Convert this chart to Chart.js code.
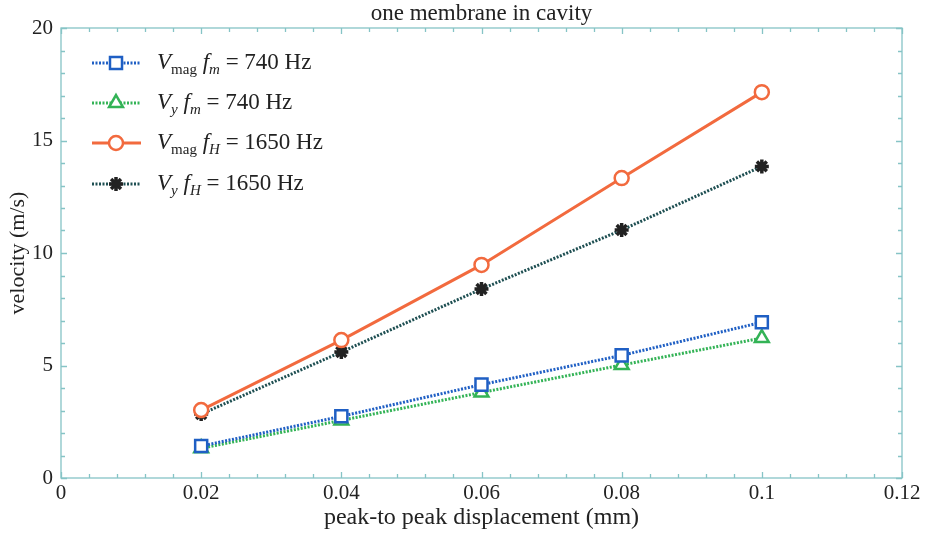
<!DOCTYPE html>
<html>
<head>
<meta charset="utf-8">
<script src="https://cdn.jsdelivr.net/npm/chart.js@4.4.1/dist/chart.umd.min.js"></script>
<style>
  html, body { margin: 0; padding: 0; background: #fff; }
  #wrap { position: relative; width: 927px; height: 534px; }
  #legend { position: absolute; left: 157px; top: 0; font-family: "Liberation Serif", serif; font-size: 23px; color: #222; }
  #legend div { position: absolute; left: 0; white-space: nowrap; line-height: 26px; }
  #legend sub { font-size: 15px; vertical-align: -5px; line-height: 0; }
  #legend i { font-style: italic; }
</style>
</head>
<body>
<div id="wrap">
  <canvas id="chart" width="927" height="534"></canvas>
  <div id="legend"></div>
</div>
<script>
// peak-to-peak displacement (mm)
const displacement = [0.02, 0.04, 0.06, 0.08, 0.1];
// velocities (m/s)
const vmagFm = [1.42, 2.74, 4.15, 5.45, 6.92];
const vyFm = [1.32, 2.56, 3.80, 5.02, 6.22];
const vmagFh = [3.02, 6.13, 9.47, 13.33, 17.15];
const vyFh = [2.84, 5.60, 8.40, 11.02, 13.85];

const seriesLabels = [
  '<i>V</i><sub>mag</sub> <i>f</i><sub><i>m</i></sub> = 740 Hz',
  '<i>V</i><sub><i>y</i></sub> <i>f</i><sub><i>m</i></sub> = 740 Hz',
  '<i>V</i><sub>mag</sub> <i>f</i><sub><i>H</i></sub> = 1650 Hz',
  '<i>V</i><sub><i>y</i></sub> <i>f</i><sub><i>H</i></sub> = 1650 Hz'
];
const xTicks = [0, 0.02, 0.04, 0.06, 0.08, 0.1, 0.12];
const yTicks = [0, 5, 10, 15, 20];

const axisColor = '#86c4c6';
const serif = "'Liberation Serif', serif";

function pts(ys) {
  return displacement.map((x, i) => ({ x: x, y: ys[i] }));
}

const datasets = [
  { data: pts(vmagFm), borderColor: '#1f5fc4', backgroundColor: '#ffffff', borderWidth: 3, borderDash: [2, 1.5],
    pointStyle: 'rect', pointRadius: 8.5, pointBorderWidth: 2.5, pointBorderColor: '#1f5fc4', pointBackgroundColor: '#ffffff' },
  { data: pts(vyFm), borderColor: '#33b356', backgroundColor: '#ffffff', borderWidth: 3, borderDash: [2, 1.5],
    pointStyle: 'triangle', pointRadius: 8, pointBorderWidth: 2.5, pointBorderColor: '#33b356', pointBackgroundColor: '#ffffff' },
  { data: pts(vmagFh), borderColor: '#f26a3e', backgroundColor: '#ffffff', borderWidth: 3,
    pointStyle: 'circle', pointRadius: 7, pointBorderWidth: 2.5, pointBorderColor: '#f26a3e', pointBackgroundColor: '#ffffff' },
  { data: pts(vyFh), borderColor: '#1e4f52', backgroundColor: '#222', borderWidth: 3, borderDash: [2, 1.5],
    pointStyle: 'star', pointRadius: 7, pointBorderWidth: 3.5, pointBorderColor: '#222', pointBackgroundColor: '#222' }
];

// legend rows (canvas samples + html text)
const legendRows = [63, 103, 143, 184];
const legendEl = document.getElementById('legend');
seriesLabels.forEach((html, i) => {
  const d = document.createElement('div');
  d.style.top = (legendRows[i] - 14) + 'px';
  d.innerHTML = html;
  legendEl.appendChild(d);
});

// draws the axes box, inward major/minor ticks and legend samples
const boxPlugin = {
  id: 'boxTicks',
  afterDatasetsDraw(chart) {
    const { ctx, chartArea: a, scales } = chart;
    ctx.save();
    ctx.strokeStyle = axisColor;
    ctx.lineWidth = 1.3;
    ctx.strokeRect(a.left, a.top, a.right - a.left, a.bottom - a.top);
    ctx.beginPath();
    for (let v = 0; v <= 0.12 + 1e-9; v += 0.004) {
      const px = Math.round(scales.x.getPixelForValue(v)) + 0.5;
      const major = Math.abs(v / 0.02 - Math.round(v / 0.02)) < 1e-6;
      const len = major ? 6 : 4;
      ctx.moveTo(px, a.bottom); ctx.lineTo(px, a.bottom - len);
      ctx.moveTo(px, a.top); ctx.lineTo(px, a.top + len);
    }
    for (let v = 0; v <= 20; v += 1) {
      const py = Math.round(scales.y.getPixelForValue(v)) + 0.5;
      const len = v % 5 === 0 ? 6 : 4;
      ctx.moveTo(a.left, py); ctx.lineTo(a.left + len, py);
      ctx.moveTo(a.right, py); ctx.lineTo(a.right - len, py);
    }
    ctx.stroke();

    // legend samples
    chart.data.datasets.forEach((ds, i) => {
      const y = legendRows[i];
      ctx.strokeStyle = ds.borderColor;
      ctx.lineWidth = ds.borderWidth;
      ctx.setLineDash(ds.borderDash || []);
      ctx.beginPath();
      ctx.moveTo(92, y); ctx.lineTo(141, y);
      ctx.stroke();
      ctx.setLineDash([]);
      ctx.fillStyle = ds.pointBackgroundColor;
      ctx.strokeStyle = ds.pointBorderColor;
      ctx.lineWidth = ds.pointBorderWidth;
      Chart.helpers.drawPoint(ctx, { pointStyle: ds.pointStyle, radius: ds.pointRadius, rotation: 0, borderWidth: ds.pointBorderWidth }, 116, y);
    });
    ctx.restore();
  }
};

new Chart(document.getElementById('chart'), {
  type: 'line',
  data: { datasets: datasets },
  plugins: [boxPlugin],
  options: {
    responsive: false,
    devicePixelRatio: 1,
    animation: false,
    layout: { padding: { left: 0, right: 25, top: 0, bottom: 0 } },
    plugins: {
      legend: { display: false },
      tooltip: { enabled: false },
      title: {
        display: true,
        text: 'one membrane in cavity',
        fullSize: false,
        color: '#222',
        font: { family: serif, size: 23, weight: 'normal', lineHeight: 1.0 },
        padding: { top: 2, bottom: 3 }
      }
    },
    scales: {
      x: {
        type: 'linear',
        min: 0,
        max: 0.12,
        afterBuildTicks(scale) { scale.ticks = xTicks.map(v => ({ value: v })); },
        afterFit(scale) { scale.height = 56; },
        grid: { display: false, drawTicks: false },
        border: { display: false },
        ticks: {
          padding: 3,
          color: '#222',
          maxRotation: 0,
          font: { family: serif, size: 21 },
          callback: v => String(Number(v.toFixed(2)))
        },
        title: {
          display: true,
          text: 'peak-to peak displacement (mm)',
          color: '#222',
          font: { family: serif, size: 24, lineHeight: 1.2 },
          padding: { top: 0, bottom: 1.5 }
        }
      },
      y: {
        min: 0,
        max: 20,
        afterBuildTicks(scale) { scale.ticks = yTicks.map(v => ({ value: v })); },
        afterFit(scale) { scale.width = 61; },
        grid: { display: false, drawTicks: false },
        border: { display: false },
        ticks: {
          padding: 8,
          color: '#222',
          font: { family: serif, size: 21 }
        },
        title: {
          display: true,
          text: 'velocity (m/s)',
          color: '#222',
          font: { family: serif, size: 22, lineHeight: 1.2 },
          padding: { top: 5, bottom: 0 }
        }
      }
    }
  }
});
</script>
</body>
</html>
